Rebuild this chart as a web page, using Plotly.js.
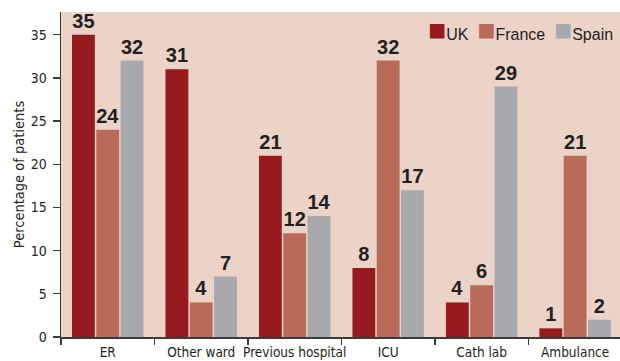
<!DOCTYPE html>
<html>
<head>
<meta charset="utf-8">
<script src="https://cdn.plot.ly/plotly-3.0.1.min.js"></script>
<style>
  html, body { margin: 0; padding: 0; background: #ffffff; overflow: hidden; }
  #chart { width: 620px; height: 361px; }
</style>
</head>
<body>
<div id="chart"></div>
<script>
// Where patients first came from, by country (percentage of patients)
const categories = ["ER", "Other ward", "Previous hospital", "ICU", "Cath lab", "Ambulance"];
const seriesNames = ["UK", "France", "Spain"];
const ukValues = [35, 31, 21, 8, 4, 1];
const franceValues = [24, 4, 12, 32, 6, 21];
const spainValues = [32, 7, 14, 17, 29, 2];
const yTicks = [0, 5, 10, 15, 20, 25, 30, 35];

const seriesValues = [ukValues, franceValues, spainValues];
const seriesColors = ["#971a1f", "#b96a58", "#a7a9ac"];

const ink = "#231f20";
const narrow = "'DejaVu Sans Condensed', 'Liberation Sans Narrow', sans-serif";
const regular = "'Liberation Sans', Arial, sans-serif";

const traces = seriesNames.map((name, i) => ({
  type: "bar",
  name: name,
  x: categories,
  y: seriesValues[i],
  marker: { color: seriesColors[i] },
  text: seriesValues[i].map(String),
  textposition: "outside",
  constraintext: "none",
  cliponaxis: false,
  textfont: { family: regular, size: 20, color: ink, weight: "bold" },
  hoverinfo: "x+y+name",
  showlegend: false
}));

// Legend row: coloured square glyph followed by the series name
const legendText = seriesNames.map((name, i) =>
  `<span style="color:${seriesColors[i]};font-size:30px">■</span>${name}`
).join("  ");

const layout = {
  width: 620,
  height: 361,
  margin: { l: 61, r: 0, t: 12, b: 24, pad: 0 },
  paper_bgcolor: "#ffffff",
  plot_bgcolor: "#ebd3c8",
  barmode: "group",
  bargap: 0.22,
  bargroupgap: 0.06,
  font: { family: narrow, color: ink, size: 14 },
  xaxis: {
    type: "category",
    range: [-0.5, 5.48],
    tickson: "boundaries",
    tickangle: 0,
    ticks: "outside",
    ticklen: 6,
    tickwidth: 1.2,
    tickcolor: "#3a3a3a",
    ticklabelstandoff: 2,
    showline: true,
    linecolor: "#3a3a3a",
    linewidth: 1.5,
    showgrid: false,
    zeroline: false,
    automargin: false,
    tickfont: { family: narrow, size: 13.5, color: ink },
    fixedrange: true
  },
  yaxis: {
    range: [0, 37.63],
    tickvals: yTicks,
    ticktext: yTicks.map(String),
    ticks: "outside",
    ticklen: 7,
    tickwidth: 1.2,
    tickcolor: "#3a3a3a",
    ticklabelstandoff: 3,
    showline: true,
    linecolor: "#3a3a3a",
    linewidth: 1.5,
    showgrid: false,
    zeroline: false,
    automargin: false,
    tickfont: { family: narrow, size: 14, color: ink },
    title: {
      text: "Percentage of patients",
      font: { family: narrow, size: 14.5, color: ink },
      standoff: 2
    },
    fixedrange: true
  },
  annotations: [{
    xref: "paper",
    yref: "paper",
    x: 0.991,
    y: 0.945,
    xanchor: "right",
    yanchor: "middle",
    showarrow: false,
    align: "left",
    text: legendText,
    font: { family: regular, size: 16, color: ink }
  }],
  showlegend: false
};

Plotly.newPlot("chart", traces, layout, { displayModeBar: false, staticPlot: true });
</script>
</body>
</html>
